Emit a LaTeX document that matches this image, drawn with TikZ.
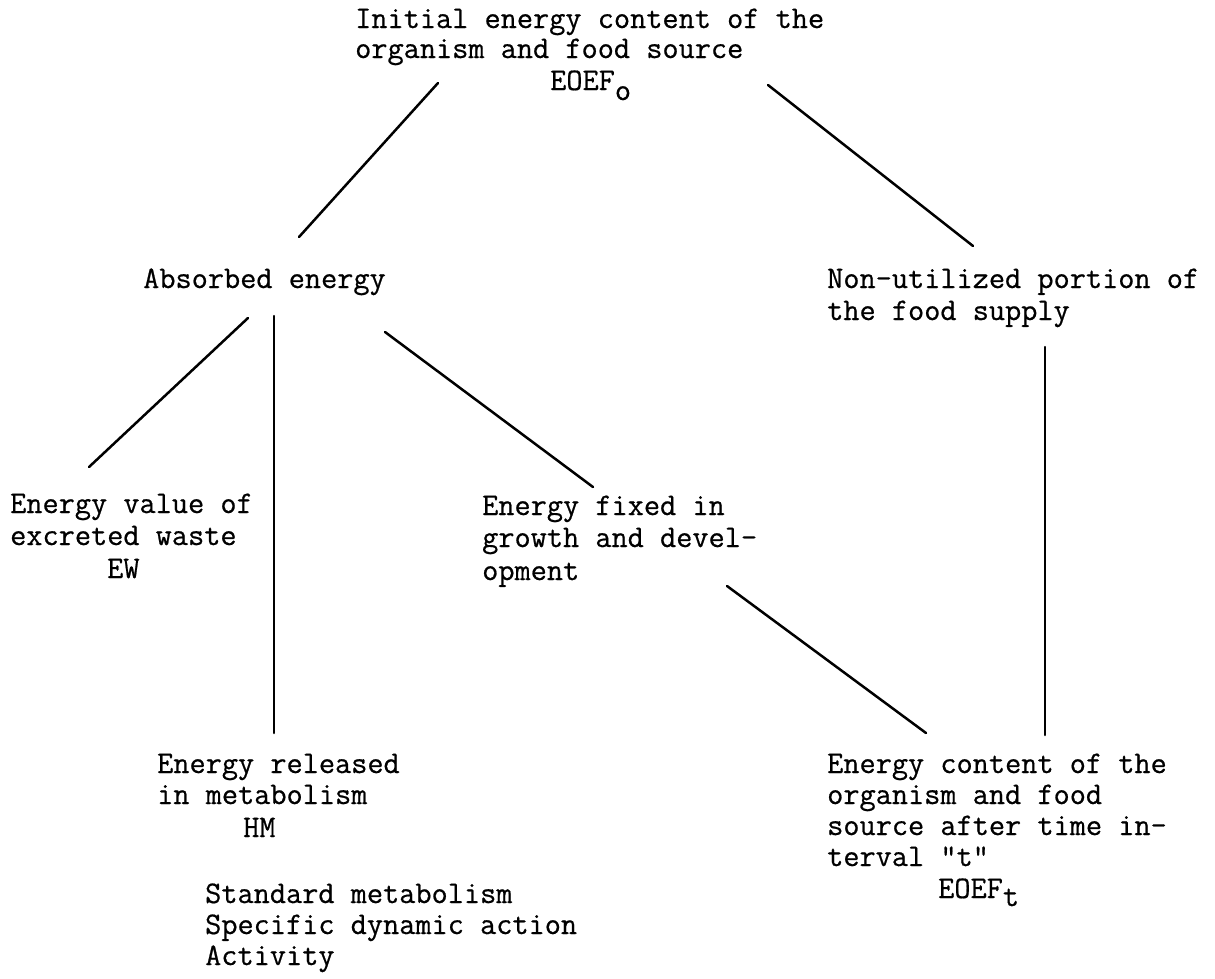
\documentclass[tikz,border=0pt]{standalone}
\usepackage{fontspec}
\newfontfamily\typewriter{Latin Modern Mono}[FakeBold=0.6]
\begin{document}
\begin{tikzpicture}[x=1pt,y=-1pt,
  tw/.style={anchor=base west, inner sep=0pt, font=\fontsize{31.4}{31}\selectfont\typewriter},
  link/.style={line width=2.5pt, line cap=round}]
\useasboundingbox (0,0) rectangle (1215,978);
% top block
\node[tw] (top1) at (355,28) {Initial energy content of the};
\node[tw] (top2) at (355,58) {organism and food source};
\node[tw] (top3) at (550,90) {EOEF\raisebox{-10pt}{o}};
% second row
\node[tw] (abs) at (143,288) {Absorbed energy};
\node[tw] (non1) at (827,288) {Non-utilized portion of};
\node[tw] (non2) at (827,320) {the food supply};
% third row
\node[tw] (ew1) at (10,513) {Energy value of};
\node[tw] (ew2) at (10,545) {excreted waste};
\node[tw] (ew3) at (107,578) {EW};
\node[tw] (fix1) at (482,515) {Energy fixed in};
\node[tw] (fix2) at (482,547) {growth and devel-};
\node[tw] (fix3) at (482,580) {opment};
% bottom left
\node[tw] (hm1) at (157,773) {Energy released};
\node[tw] (hm2) at (157,804) {in metabolism};
\node[tw] (hm3) at (243,837) {HM};
\node[tw] (sm1) at (205,903) {Standard metabolism};
\node[tw] (sm2) at (205,934) {Specific dynamic action};
\node[tw] (sm3) at (205,965) {Activity};
% bottom right
\node[tw] (et1) at (827,773) {Energy content of the};
\node[tw] (et2) at (827,804) {organism and food};
\node[tw] (et3) at (827,835) {source after time in-};
\node[tw] (et4) at (827,866) {terval "t"};
\node[tw] (et5) at (938,898) {EOEF\raisebox{-8pt}{t}};
% connector end points
\coordinate (c1a) at (438,83);  \coordinate (c1b) at (299,237);
\coordinate (c2a) at (768,85);  \coordinate (c2b) at (973,246);
\coordinate (c3a) at (248,318); \coordinate (c3b) at (89,467);
\coordinate (c4a) at (274,316); \coordinate (c4b) at (274,733);
\coordinate (c5a) at (385,332); \coordinate (c5b) at (593,487);
\coordinate (c6a) at (1045,347); \coordinate (c6b) at (1045,735);
\coordinate (c7a) at (727,586); \coordinate (c7b) at (926,733);
\draw[link] (c1a) -- (c1b);
\draw[link] (c2a) -- (c2b);
\draw[link] (c3a) -- (c3b);
\draw[link] (c4a) -- (c4b);
\draw[link] (c5a) -- (c5b);
\draw[link] (c6a) -- (c6b);
\draw[link] (c7a) -- (c7b);
\end{tikzpicture}
\end{document}
